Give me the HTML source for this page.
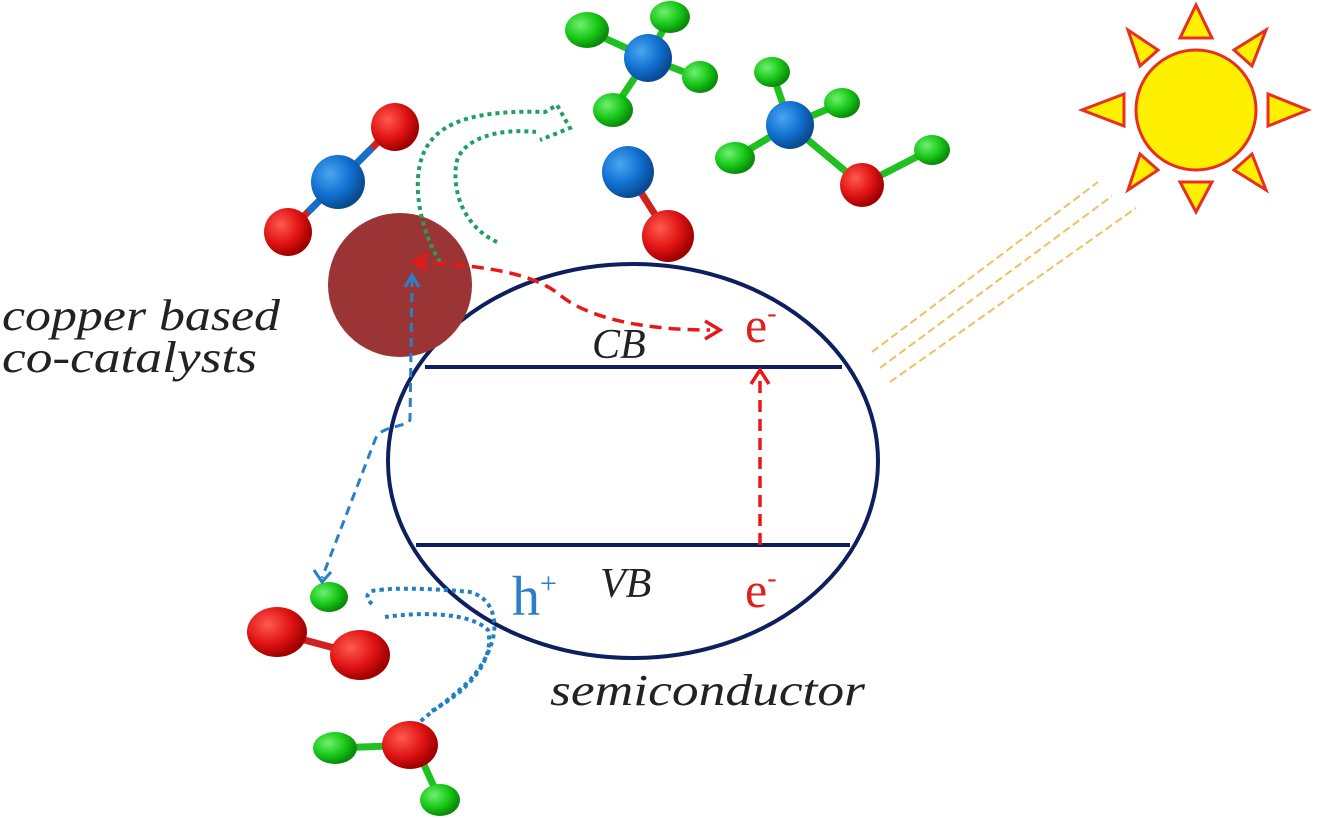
<!DOCTYPE html>
<html><head><style>body{margin:0;background:#fff}svg{display:block}</style></head><body>
<svg width="1333" height="818" viewBox="0 0 1333 818" xmlns="http://www.w3.org/2000/svg" font-family="Liberation Serif, serif">
<defs>
<radialGradient id="r" cx="35%" cy="35%" r="65%"><stop offset="0" stop-color="#ff5a50"/><stop offset="0.6" stop-color="#e01414"/><stop offset="1" stop-color="#a00000"/></radialGradient>
<radialGradient id="b" cx="35%" cy="35%" r="65%"><stop offset="0" stop-color="#4aa6f0"/><stop offset="0.6" stop-color="#1070d0"/><stop offset="1" stop-color="#0a4a90"/></radialGradient>
<radialGradient id="g" cx="35%" cy="35%" r="65%"><stop offset="0" stop-color="#70f070"/><stop offset="0.6" stop-color="#18c818"/><stop offset="1" stop-color="#0a8a0a"/></radialGradient>
</defs>
<g fill="#ffef00" stroke="#e83020" stroke-width="3">
<circle cx="1196" cy="110" r="60"/>
<polygon points="1180,38 1212,38 1196,5"/>
<polygon points="1180,182 1212,182 1196,212"/>
<polygon points="1124,94 1124,126 1082,110"/>
<polygon points="1268,94 1268,126 1308,110"/>
<polygon points="1140,66 1158,50 1128,30"/>
<polygon points="1234,50 1252,66 1266,30"/>
<polygon points="1140,154 1158,170 1128,190"/>
<polygon points="1234,170 1252,154 1266,190"/>
</g>
<g stroke="#f0c060" stroke-width="2" stroke-dasharray="8,4">
<line x1="872" y1="352" x2="1098" y2="182"/><line x1="880" y1="368" x2="1112" y2="196"/><line x1="890" y1="382" x2="1136" y2="208"/>
</g>
<ellipse cx="633" cy="461" rx="245" ry="197" fill="none" stroke="#0d1f5c" stroke-width="4"/>
<line x1="425" y1="367" x2="842" y2="367" stroke="#0d1f5c" stroke-width="4"/>
<line x1="416" y1="545" x2="850" y2="545" stroke="#0d1f5c" stroke-width="4"/>
<circle cx="400" cy="285" r="72" fill="#9b3535"/>
<g stroke-width="7" stroke-linecap="round">
<line x1="395" y1="125" x2="288" y2="232" stroke="#d02020"/>
<line x1="370" y1="150" x2="310" y2="210" stroke="#1070d0"/>
<line x1="648" y1="58" x2="587" y2="30" stroke="#20c020"/><line x1="648" y1="58" x2="670" y2="17" stroke="#20c020"/><line x1="648" y1="58" x2="613" y2="110" stroke="#20c020"/><line x1="648" y1="58" x2="697" y2="77" stroke="#20c020"/>
<line x1="790" y1="125" x2="772" y2="72" stroke="#20c020"/><line x1="790" y1="125" x2="842" y2="103" stroke="#20c020"/><line x1="790" y1="125" x2="735" y2="158" stroke="#20c020"/><line x1="790" y1="125" x2="862" y2="185" stroke="#20c020"/><line x1="862" y1="185" x2="930" y2="150" stroke="#20c020"/>
<line x1="628" y1="172" x2="668" y2="235" stroke="#d02020"/>
<line x1="275" y1="632" x2="360" y2="655" stroke="#d02020"/>
<line x1="415" y1="745" x2="335" y2="748" stroke="#20c020"/><line x1="415" y1="745" x2="440" y2="800" stroke="#20c020"/>
</g>
<circle cx="395" cy="127" r="24" fill="url(#r)"/><circle cx="338" cy="182" r="27" fill="url(#b)"/><circle cx="288" cy="232" r="24" fill="url(#r)"/>
<circle cx="648" cy="58" r="24" fill="url(#b)"/><ellipse cx="587" cy="30" rx="22" ry="18" fill="url(#g)"/><ellipse cx="670" cy="17" rx="20" ry="16" fill="url(#g)"/><ellipse cx="613" cy="110" rx="20" ry="17" fill="url(#g)"/><ellipse cx="700" cy="77" rx="18" ry="16" fill="url(#g)"/>
<circle cx="790" cy="125" r="24" fill="url(#b)"/><ellipse cx="772" cy="72" rx="18" ry="15" fill="url(#g)"/><ellipse cx="842" cy="103" rx="18" ry="15" fill="url(#g)"/><ellipse cx="735" cy="158" rx="20" ry="16" fill="url(#g)"/><circle cx="862" cy="185" r="22" fill="url(#r)"/><ellipse cx="932" cy="150" rx="18" ry="15" fill="url(#g)"/>
<circle cx="628" cy="172" r="26" fill="url(#b)"/><circle cx="668" cy="236" r="26" fill="url(#r)"/>
<ellipse cx="329" cy="597" rx="19" ry="15" fill="url(#g)"/>
<ellipse cx="277" cy="632" rx="30" ry="25" fill="url(#r)"/><ellipse cx="360" cy="655" rx="30" ry="25" fill="url(#r)"/>
<ellipse cx="410" cy="745" rx="28" ry="24" fill="url(#r)"/><ellipse cx="335" cy="748" rx="22" ry="16" fill="url(#g)"/><ellipse cx="440" cy="800" rx="20" ry="16" fill="url(#g)"/>
<g fill="none" stroke="#20a060" stroke-width="4" stroke-dasharray="4,4">
<path d="M440,262 C420,230 410,180 425,150 C440,120 480,110 545,112 L557,105 L570,128 L540,140"/>
<path d="M497,242 C470,230 452,200 456,165 C460,138 500,128 536,132"/>
</g>
<g fill="none" stroke="#2080c0" stroke-width="4" stroke-dasharray="4,4">
<path d="M380,590 C390,588 430,588 470,592 C500,600 505,640 470,680 C450,700 430,712 420,722"/>
<path d="M372,604 C365,598 365,590 380,590 M385,617 C420,612 470,612 488,630 C495,660 470,690 430,712"/>
</g>
<g fill="none" stroke="#e81818" stroke-width="3.5" stroke-dasharray="12,7">
<path d="M415,262 C470,265 530,270 560,295 C590,320 650,330 710,330"/>
<line x1="760" y1="545" x2="760" y2="378"/>
</g>
<g fill="none" stroke="#e81818" stroke-width="3.5">
<polyline points="428,254 414,262 428,270"/>
<polyline points="705,321 720,330 705,339"/>
<polyline points="751,384 760,370 769,384"/>
</g>
<g fill="none" stroke="#2a7fc8" stroke-width="3" stroke-dasharray="9,6">
<path d="M412,278 L410,420 C405,428 380,425 375,440 L322,578"/>
</g>
<g fill="none" stroke="#2a7fc8" stroke-width="3">
<polyline points="405,287 412,275 419,287"/>
<polyline points="314,570 322,582 331,572"/>
</g>
<g font-style="italic" font-size="44" fill="#222">
<text x="2" y="330" textLength="278" lengthAdjust="spacingAndGlyphs">copper based</text>
<text x="2" y="372" textLength="255" lengthAdjust="spacingAndGlyphs">co-catalysts</text>
<text x="550" y="705" textLength="315" lengthAdjust="spacingAndGlyphs">semiconductor</text>
<text x="592" y="358" font-size="42">CB</text>
<text x="600" y="597" font-size="42">VB</text>
</g>
<text x="745" y="342" font-size="50" fill="#e02020">e<tspan font-size="28" dy="-20">-</tspan></text>
<text x="745" y="607" font-size="50" fill="#e02020">e<tspan font-size="28" dy="-20">-</tspan></text>
<text x="512" y="615" font-size="56" fill="#2a7fc8">h<tspan font-size="30" dy="-22">+</tspan></text>
</svg>
</body></html>
